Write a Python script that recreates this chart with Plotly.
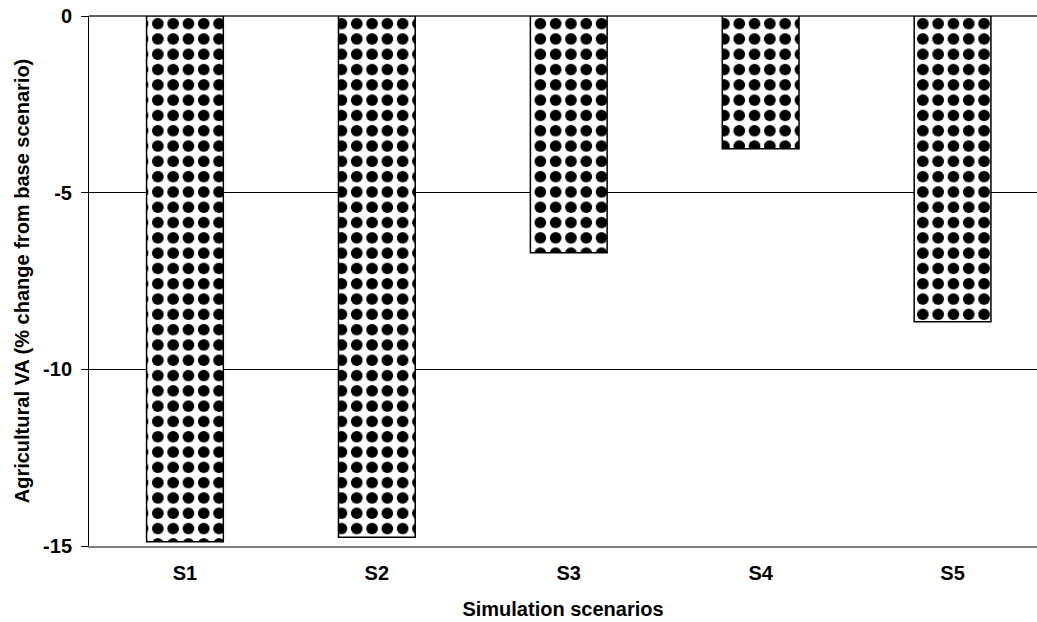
import plotly.graph_objects as go

categories = ["S1", "S2", "S3", "S4", "S5"]
values = [-14.88, -14.75, -6.70, -3.76, -8.65]
y_ticks = [0, -5, -10, -15]
y_tick_labels = ["0", "-5", "-10", "-15"]

FONT = "Liberation Sans, Arial, sans-serif"
BOLD = dict(family=FONT, size=20, color="black", weight="bold")

fig = go.Figure()
fig.add_trace(go.Bar(
    x=categories,
    y=values,
    marker=dict(
        color="white",
        line=dict(color="black", width=1.5),
        pattern=dict(shape=".", fgcolor="black", bgcolor="white",
                     size=15.3, solidity=0.46, fillmode="replace"),
    ),
    showlegend=False,
))

fig.update_layout(
    width=1037, height=622,
    margin=dict(l=89, r=0, t=16, b=76),
    paper_bgcolor="white", plot_bgcolor="white",
    bargap=0.6,
    font=BOLD,
)
fig.update_xaxes(
    range=[-0.5, 4.44],
    showline=True, linecolor="#808080", linewidth=2,
    ticks="", showgrid=False, automargin=False,
    tickfont=BOLD, ticklabelstandoff=8,
    title=dict(text="Simulation scenarios", standoff=19, font=BOLD),
)
fig.update_yaxes(
    range=[-15, 0],
    tickvals=y_ticks, ticktext=y_tick_labels,
    showline=True, linecolor="black", linewidth=1,
    ticks="outside", ticklen=7, tickcolor="black", tickwidth=1,
    showgrid=True, gridcolor="black", gridwidth=1,
    zeroline=True, zerolinecolor="#606060", zerolinewidth=2,
    tickfont=BOLD, ticklabelstandoff=5, ticklabeloverflow="allow",
    automargin=False,
    title=dict(text="Agricultural VA (% change from base scenario)", standoff=8,
               font=BOLD),
)

fig.write_html("out.html",
               config={"displayModeBar": False},
               post_script="document.body.style.margin='0';document.body.style.overflow='hidden';")
